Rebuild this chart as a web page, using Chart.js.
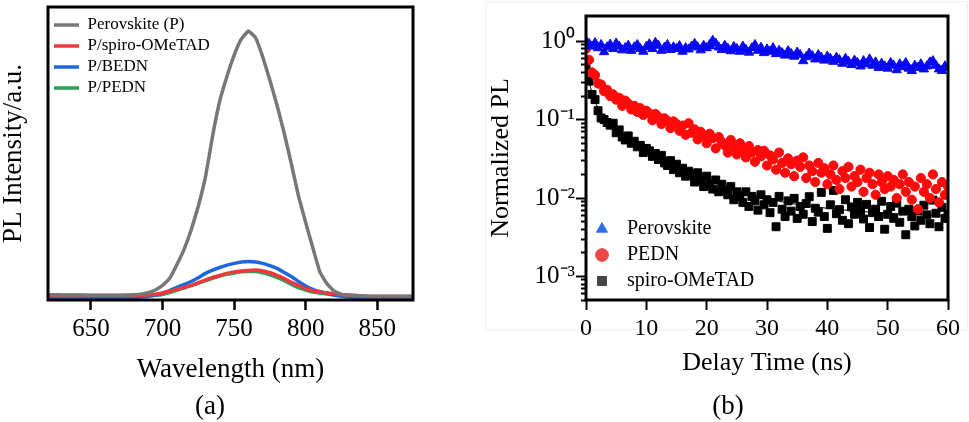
<!DOCTYPE html>
<html>
<head>
<meta charset="utf-8">
<title>PL and TRPL</title>
<script src="https://cdn.jsdelivr.net/npm/chart.js@4.4.1/dist/chart.umd.min.js"></script>
<style>
    body { margin: 0; background: #fff; }
    #page { position: relative; width: 969px; height: 422px; font-family: 'Liberation Serif', 'Times New Roman', serif; color: #000; }
    .panel { position: absolute; top: 0; height: 422px; }
    #panelA { left: 0; width: 440px; }
    #panelB { left: 470px; width: 499px; }
    #boxB { position: absolute; left: 485px; top: 1px; width: 481px; height: 327px; border: 1px dotted #e2e2e2; }
    .tag { position: absolute; top: 389px; font-size: 27px; line-height: 32px; transform: translateX(-50%); }
</style>
</head>
<body>
<div id="page">
    <div id="boxB"></div>
    <div class="panel" id="panelA"><canvas id="chartA"></canvas></div>
    <div class="panel" id="panelB"><canvas id="chartB"></canvas></div>
    <div class="tag" style="left:210px">(a)</div>
    <div class="tag" style="left:728px">(b)</div>
</div>
<script>
// ---- (a) steady-state PL ----
const wavelength = [620, 625, 630, 635, 640, 645, 650, 655, 660, 665, 670, 675, 680,
    685, 690, 695, 700, 705, 710, 715, 720, 725, 730, 735, 740, 745, 750, 755, 760,
    765, 770, 775, 780, 785, 790, 795, 800, 805, 810, 815, 820, 825, 830, 835, 840,
    845, 850, 855, 860, 865, 870, 875];
const plPerovskite = [1.8, 1.8, 1.7, 1.7, 1.7, 1.7, 1.6, 1.6, 1.6, 1.6, 1.6, 1.7, 1.8,
    2.0, 2.5, 3.4, 5.0, 7.4, 12, 17.2, 23.9, 32, 42, 56, 68, 76.3, 83.5, 89, 91.8,
    89.5, 83, 75, 66.5, 57, 46.5, 35.5, 26.5, 17.8, 9.5, 5.5, 3.0, 1.9, 1.6, 1.5, 1.4,
    1.3, 1.3, 1.3, 1.3, 1.3, 1.3, 1.3];
const plSpiro = [1.5, 1.5, 1.5, 1.5, 1.5, 1.5, 1.5, 1.5, 1.5, 1.5, 1.5, 1.5, 1.5,
    1.6, 1.8, 2.0, 2.4, 3.0, 3.6, 4.3, 5.0, 5.9, 6.8, 7.7, 8.4, 9.1, 9.6, 9.9, 10.1,
    10.2, 9.9, 9.3, 8.4, 7.3, 6.0, 4.9, 3.9, 3.2, 2.7, 2.4, 2.2, 1.9, 1.7, 1.5, 1.25,
    1.2, 1.2, 1.2, 1.2, 1.2, 1.2, 1.2];
const plBEDN = [0.9, 0.9, 0.8, 0.8, 0.8, 0.8, 0.8, 0.8, 0.8, 0.8, 0.8, 0.8, 0.9,
    1.0, 1.25, 1.7, 2.3, 3.2, 4.3, 5.3, 6.3, 7.6, 9.1, 10.2, 11.1, 11.9, 12.5, 13.0, 13.1,
    13.0, 12.5, 11.7, 10.8, 9.4, 8.0, 6.3, 4.8, 3.6, 2.8, 2.3, 1.7, 1.25, 0.9, 0.7, 0.7,
    0.6, 0.6, 0.6, 0.6, 0.6, 0.6, 0.6];
const plPEDN = [1.1, 1.1, 1.1, 1.1, 1.1, 1.1, 1.1, 1.1, 1.1, 1.1, 1.1, 1.1, 1.1,
    1.25, 1.4, 1.6, 1.9, 2.5, 3.3, 4.1, 4.9, 5.7, 6.6, 7.4, 8.2, 8.8, 9.2, 9.6, 9.7,
    9.7, 9.3, 8.6, 7.7, 6.6, 5.3, 4.2, 3.4, 2.7, 2.4, 2.0, 1.7, 1.5, 1.25, 1.1, 1.1,
    1.1, 1.1, 1.1, 1.1, 1.1, 1.1, 1.1];
const seriesNamesA = ['Perovskite (P)', 'P/spiro-OMeTAD', 'P/BEDN', 'P/PEDN'];

// ---- (b) time-resolved PL ----
const delayTime = [0, 0.5, 1, 1.5, 2, 2.5, 3, 3.5, 4, 4.5,
    5, 5.5, 6, 6.5, 7, 7.5, 8, 8.5, 9, 9.5,
    10, 10.5, 11, 11.5, 12, 12.5, 13, 13.5, 14, 14.5,
    15, 15.5, 16, 16.5, 17, 17.5, 18, 18.5, 19, 19.5,
    20, 20.5, 21, 21.5, 22, 22.5, 23, 23.5, 24, 24.5,
    25, 25.5, 26, 26.5, 27, 27.5, 28, 28.5, 29, 29.5,
    30, 30.5, 31, 31.5, 32, 32.5, 33, 33.5, 34, 34.5,
    35, 35.5, 36, 36.5, 37, 37.5, 38, 38.5, 39, 39.5,
    40, 40.5, 41, 41.5, 42, 42.5, 43, 43.5, 44, 44.5,
    45, 45.5, 46, 46.5, 47, 47.5, 48, 48.5, 49, 49.5,
    50, 50.5, 51, 51.5, 52, 52.5, 53, 53.5, 54, 54.5,
    55, 55.5, 56, 56.5, 57, 57.5, 58, 58.5, 59, 59.5,
    60];
const trplPerovskite = [1.0, 0.93, 0.86, 0.95, 0.82, 0.90, 0.73, 0.84, 0.91, 0.80,
    0.94, 0.86, 0.77, 0.82, 0.88, 0.76, 0.84, 0.90, 0.80, 0.74,
    0.85, 0.92, 0.80, 0.96, 0.88, 0.76, 0.83, 0.90, 0.78, 0.84,
    0.80, 0.87, 0.74, 0.82, 0.79, 0.86, 0.93, 0.84, 0.77, 0.88,
    0.82, 0.90, 1.02, 0.94, 0.84, 0.78, 0.88, 0.81, 0.75, 0.85,
    0.80, 0.74, 0.86, 0.78, 0.72, 0.82, 0.90, 0.76, 0.83, 0.71,
    0.79, 0.74, 0.82, 0.69, 0.76, 0.71, 0.66, 0.75, 0.69, 0.64,
    0.72, 0.67, 0.56, 0.63, 0.70, 0.65, 0.59, 0.67, 0.62, 0.57,
    0.64, 0.60, 0.55, 0.62, 0.58, 0.52, 0.60, 0.55, 0.50, 0.57,
    0.53, 0.48, 0.56, 0.51, 0.59, 0.49, 0.54, 0.46, 0.52, 0.48,
    0.45, 0.53, 0.49, 0.43, 0.51, 0.47, 0.53, 0.45, 0.42, 0.49,
    0.46, 0.51, 0.44, 0.48, 0.54, 0.56, 0.49, 0.44, 0.42, 0.48,
    0.46];
const trplPEDN = [0.80, 0.58, 0.40, 0.37, 0.29, 0.28, 0.23, 0.24, 0.20, 0.21,
    0.18, 0.19, 0.15, 0.175, 0.16, 0.135, 0.15, 0.125, 0.14, 0.115,
    0.13, 0.12, 0.098, 0.118, 0.108, 0.088, 0.104, 0.096, 0.078, 0.095,
    0.088, 0.072, 0.084, 0.064, 0.09, 0.068, 0.075, 0.056, 0.07, 0.062,
    0.05, 0.066, 0.058, 0.043, 0.06, 0.052, 0.047, 0.038, 0.055, 0.044,
    0.036, 0.05, 0.041, 0.033, 0.046, 0.038, 0.029, 0.041, 0.034, 0.04,
    0.026, 0.035, 0.031, 0.023, 0.038, 0.028, 0.021, 0.032, 0.027, 0.019,
    0.03, 0.025, 0.033, 0.018, 0.026, 0.022, 0.016, 0.028, 0.021, 0.024,
    0.015, 0.02, 0.026, 0.017, 0.013, 0.022, 0.018, 0.025, 0.014, 0.019,
    0.016, 0.023, 0.012, 0.018, 0.021, 0.015, 0.011, 0.02, 0.016, 0.013,
    0.019, 0.014, 0.017, 0.01, 0.015, 0.02, 0.012, 0.016, 0.0095, 0.014,
    0.0072, 0.018, 0.012, 0.015, 0.01, 0.02, 0.013, 0.0088, 0.016, 0.011,
    0.014];
const trplSpiro = [0.46, 0.31, 0.21, 0.18, 0.13, 0.105, 0.10, 0.092, 0.085, 0.09,
    0.068, 0.074, 0.06, 0.055, 0.062, 0.05, 0.053, 0.045, 0.047, 0.038,
    0.043, 0.04, 0.034, 0.037, 0.031, 0.035, 0.028, 0.026, 0.03, 0.023,
    0.027, 0.021, 0.024, 0.019, 0.022, 0.02, 0.016, 0.021, 0.017, 0.014,
    0.019, 0.015, 0.013, 0.017, 0.012, 0.015, 0.0125, 0.011, 0.014, 0.0095,
    0.012, 0.0105, 0.0088, 0.012, 0.0078, 0.0105, 0.0092, 0.007, 0.011, 0.0082,
    0.0095, 0.0065, 0.0088, 0.0043, 0.0105, 0.0072, 0.0058, 0.0092, 0.0068, 0.0099,
    0.0055, 0.0078, 0.0062, 0.0085, 0.0104, 0.005, 0.0074, 0.0066, 0.0118, 0.0058,
    0.0041, 0.0082, 0.0125, 0.0063, 0.0071, 0.0052, 0.0095, 0.0047, 0.0077, 0.0062,
    0.0088, 0.0069, 0.0054, 0.0083, 0.0042, 0.0065, 0.0072, 0.0058, 0.0091, 0.004,
    0.0062, 0.0078, 0.0055, 0.0086, 0.0049, 0.0068, 0.0034, 0.0072, 0.0058, 0.0044,
    0.0069, 0.0052, 0.0081, 0.0061, 0.0047, 0.0094, 0.0064, 0.0043, 0.0076, 0.0055,
    0.0062];
// fitted decay curves
const fitTimePerovskite = [0, 5, 10, 15, 20, 25, 30, 35, 40, 45, 50, 55, 60];
const fitPerovskite = [0.92, 0.88, 0.85, 0.83, 0.81, 0.79, 0.75, 0.69, 0.62, 0.56, 0.52, 0.49, 0.48];
const fitTimeSpiro = [0, 0.5, 1, 2, 3, 4, 6, 8, 10, 13, 16, 20, 25, 30, 35, 40, 45, 50, 55, 60];
const fitSpiro = [0.45, 0.31, 0.22, 0.14, 0.105, 0.085, 0.063, 0.05, 0.041, 0.031, 0.024,
    0.0175, 0.0125, 0.0098, 0.0083, 0.0074, 0.0068, 0.0064, 0.0061, 0.0059];
const seriesNamesB = ['Perovskite', 'PEDN', 'spiro-OMeTAD'];
const logTickLabels = {'0': '10⁰', '-1': '10⁻¹', '-2': '10⁻²', '-3': '10⁻³'};

const SERIF = "'Liberation Serif', 'Times New Roman', serif";
Chart.defaults.font.family = SERIF;
Chart.defaults.color = '#000';

function toPoints(xs, ys) {
    return xs.map((x, i) => ({x: x, y: ys[i]}));
}

function serif(size, extra) {
    return Object.assign({family: SERIF, size: size}, extra || {});
}

// black box round the plot area
const framePlugin = {
    id: 'frame',
    afterDraw(chart) {
        const a = chart.chartArea;
        const ctx = chart.ctx;
        ctx.save();
        ctx.strokeStyle = '#000';
        ctx.lineWidth = 3;
        ctx.strokeRect(a.left, a.top, a.right - a.left, a.bottom - a.top);
        ctx.restore();
    }
};

// put the legend at a fixed spot inside the plot
const legendSpot = {
    id: 'legendSpot',
    afterLayout(chart, args, opts) {
        const lg = chart.legend;
        if (!lg || opts.left === undefined) return;
        const w = lg.width, h = lg.height;
        lg.left = opts.left;
        lg.top = opts.top;
        lg.right = opts.left + w;
        lg.bottom = opts.top + h;
    }
};

const colorsA = ['#777777', '#f0383c', '#1e66dc', '#2e9e58'];
const seriesA = [plPerovskite, plSpiro, plBEDN, plPEDN];

new Chart(document.getElementById('chartA'), {
    type: 'line',
    data: {
        datasets: seriesA.map((vals, i) => ({
            label: seriesNamesA[i],
            data: toPoints(wavelength, vals),
            borderColor: colorsA[i],
            backgroundColor: colorsA[i],
            borderWidth: 3.5,
            pointRadius: 0,
            pointStyle: 'line',
            tension: 0.1
        }))
    },
    options: {
        responsive: true,
        maintainAspectRatio: false,
        animation: false,
        devicePixelRatio: 1,
        layout: {padding: {top: 7, right: 27, left: 0, bottom: 0}},
        scales: {
            x: {
                type: 'linear',
                min: 620,
                max: 875,
                ticks: {stepSize: 50, includeBounds: false, font: serif(25), padding: 4},
                grid: {display: true, drawOnChartArea: false, drawTicks: true, tickLength: 10, tickWidth: 2.5, tickColor: '#000'},
                border: {display: false},
                title: {display: true, text: 'Wavelength (nm)', font: serif(27), padding: {top: 0, bottom: 36}},
                afterFit: (s) => { s.height = 122; }
            },
            y: {
                type: 'linear',
                min: 0,
                max: 100,
                ticks: {display: false},
                grid: {display: false},
                border: {display: false},
                title: {display: true, text: 'PL Intensity/a.u.', font: serif(27, {lineHeight: 1}), padding: 0},
                afterFit: (s) => { s.width = 48; }
            }
        },
        plugins: {
            legend: {
                position: 'chartArea',
                align: 'start',
                labels: {usePointStyle: true, pointStyle: 'line', pointStyleWidth: 25, padding: 4, font: serif(17)}
            },
            legendSpot: {left: 50, top: 12.5},
            tooltip: {enabled: false}
        }
    },
    plugins: [framePlugin, legendSpot]
});

const colorsB = ['#0a0af0', '#ff0a0a', '#000000'];
const legendTintB = ['#2b6fe0', '#ea4646', '#454545'];
const stylesB = ['triangle', 'circle', 'rect'];
const radiusB = [5.4, 4.6, 5.6];
const seriesB = [trplPerovskite, trplPEDN, trplSpiro];

const datasetsB = seriesB.map((vals, i) => ({
    label: seriesNamesB[i],
    data: toPoints(delayTime, vals),
    pointStyle: stylesB[i],
    pointRadius: radiusB[i],
    pointBackgroundColor: colorsB[i],
    pointBorderColor: colorsB[i],
    backgroundColor: colorsB[i],
    borderColor: colorsB[i],
    pointBorderWidth: 1
}));
datasetsB.push({
    type: 'line', label: 'fit-perovskite', data: toPoints(fitTimePerovskite, fitPerovskite),
    borderColor: '#0000ff', borderWidth: 1.2, pointRadius: 0, showLine: true,
    cubicInterpolationMode: 'monotone', order: -1
});
datasetsB.push({
    type: 'line', label: 'fit-spiro', data: toPoints(fitTimeSpiro, fitSpiro),
    borderColor: '#000000', borderWidth: 1, pointRadius: 0, showLine: true,
    cubicInterpolationMode: 'monotone', order: -1
});

function isMajorLog(v) {
    const e = Math.log10(v);
    return Math.abs(e - Math.round(e)) < 1e-6;
}

new Chart(document.getElementById('chartB'), {
    type: 'scatter',
    data: {datasets: datasetsB},
    options: {
        responsive: true,
        maintainAspectRatio: false,
        animation: false,
        devicePixelRatio: 1,
        layout: {padding: {top: 12, right: 21, left: 0, bottom: 0}},
        scales: {
            x: {
                type: 'linear',
                min: 0,
                max: 60,
                ticks: {stepSize: 10, font: serif(24), padding: 4},
                grid: {display: true, drawOnChartArea: false, drawTicks: true, tickLength: 10, tickWidth: 2, tickColor: '#000'},
                border: {display: false},
                title: {display: true, text: 'Delay Time (ns)', font: serif(26), padding: {top: 0, bottom: 43}},
                afterFit: (s) => { s.height = 122; }
            },
            y: {
                type: 'logarithmic',
                min: 5e-4,
                max: 2.1,
                ticks: {
                    autoSkip: false,
                    font: serif(25),
                    padding: 1,
                    callback: function (v) {
                        if (v > 1.001) return null;
                        const m = v / Math.pow(10, Math.floor(Math.log10(v) + 1e-9));
                        if (Math.abs(m - 1.5) < 0.01) return null;
                        if (isMajorLog(v)) return logTickLabels[String(Math.round(Math.log10(v)))] || '';
                        return '';
                    }
                },
                grid: {
                    display: true, drawOnChartArea: false, drawTicks: true, tickLength: 10, tickWidth: 2, tickColor: '#000',
                    tickBorderDash: (c) => (c.tick && isMajorLog(c.tick.value)) ? [] : [5, 5],
                    tickBorderDashOffset: (c) => (c.tick && isMajorLog(c.tick.value)) ? 0 : 5
                },
                border: {display: false},
                title: {display: true, text: 'Normalized PL', font: serif(26), padding: {top: 16, bottom: 0}},
                afterFit: (s) => { s.width = 116; }
            }
        },
        plugins: {
            legend: {
                position: 'chartArea',
                align: 'start',
                labels: {
                    usePointStyle: true,
                    boxWidth: 20,
                    boxHeight: 9,
                    padding: 6,
                    font: serif(20),
                    filter: (item) => item.datasetIndex < 3,
                    generateLabels: function (chart) {
                        const items = Chart.defaults.plugins.legend.labels.generateLabels(chart);
                        items.forEach((it) => {
                            it.text = ' ' + it.text;
                            if (it.datasetIndex < 3) {
                                it.fillStyle = legendTintB[it.datasetIndex];
                                it.strokeStyle = legendTintB[it.datasetIndex];
                            }
                        });
                        return items;
                    }
                }
            },
            legendSpot: {left: 116, top: 213},
            tooltip: {enabled: false}
        }
    },
    plugins: [framePlugin, legendSpot]
});
</script>
</body>
</html>
